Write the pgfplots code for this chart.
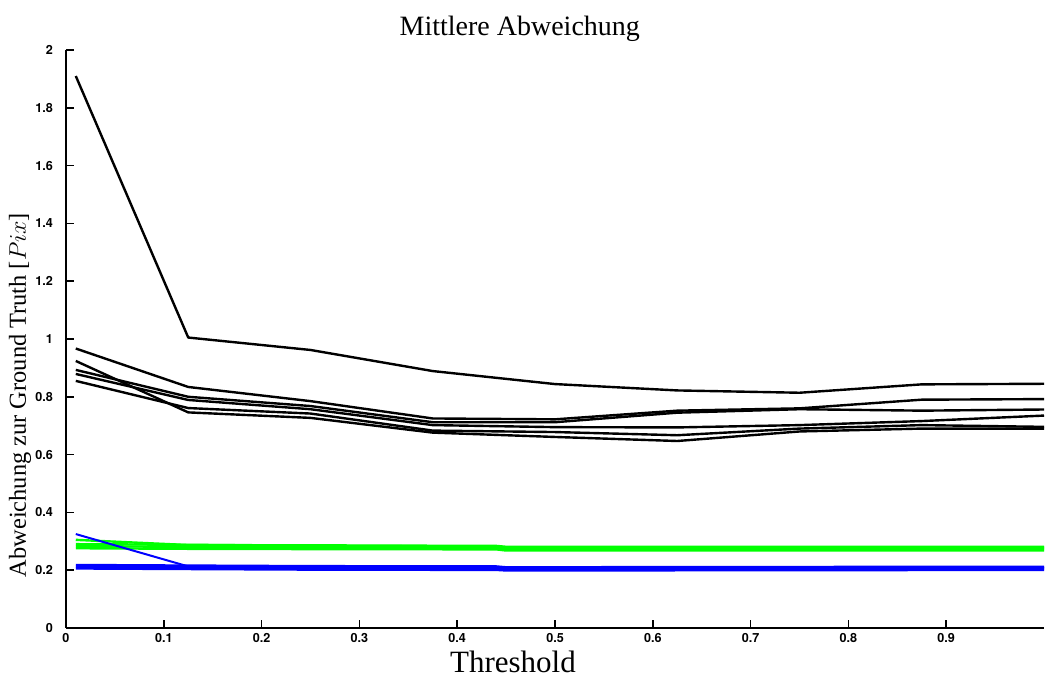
\documentclass[border=0pt]{standalone}
\usepackage{fontspec}
\setmainfont{Liberation Serif}
\newfontfamily\tickfont{TeX Gyre Heros}
\usepackage{pgfplots}
\pgfplotsset{compat=1.18}
\definecolor{mgreen}{RGB}{0,255,0}
\definecolor{mblue}{RGB}{0,0,255}
\begin{document}
\begin{tikzpicture}
\begin{axis}[
  name=ax,
  scale only axis,
  width=489pt, height=289pt,
  xmin=0, xmax=1, ymin=0, ymax=2,
  axis x line=bottom, axis y line=left,
  axis line style={-, line width=1pt},
  tick style={black, line width=0.8pt},
  tick align=inside,
  major tick length=4pt,
  xtick={0,0.1,...,0.9},
  xticklabels={0,0.1,0.2,0.3,0.4,0.5,0.6,0.7,0.8,0.9},
  ytick={0,0.2,...,2},
  yticklabels={0,0.2,0.4,0.6,0.8,1,1.2,1.4,1.6,1.8,2},
  /pgf/number format/assume math mode=true,
  ticklabel style={font=\tickfont\fontsize{6.3}{7}\selectfont\bfseries},
  xticklabel style={yshift=1pt},
  yticklabel style={xshift=-3pt},
  title={Mittlere Abweichung},
  title style={at={(axis description cs:0.464,1.0155)}, anchor=center, font=\fontsize{14}{16}\selectfont},
  xlabel={Threshold},
  xlabel style={at={(axis description cs:0.457,-0.0588)}, anchor=center, font=\fontsize{15.5}{17}\selectfont},
  ylabel={Abweichung zur Ground Truth [$Pix$]},
  ylabel style={at={(axis description cs:-0.047,0.403)}, anchor=center, rotate=0, font=\fontsize{12.2}{14}\selectfont},
  every axis plot/.append style={line width=1.2pt, line join=round},
]
% black lines
\addplot[black] coordinates {(0.01,1.91) (0.125,1.005) (0.25,0.962) (0.375,0.889) (0.5,0.844) (0.625,0.822) (0.75,0.814) (0.875,0.843) (1.0,0.845)};
\addplot[black] coordinates {(0.01,0.967) (0.125,0.834) (0.25,0.785) (0.375,0.725) (0.5,0.722) (0.625,0.752) (0.75,0.760) (0.875,0.790) (1.0,0.792)};
\addplot[black] coordinates {(0.01,0.893) (0.125,0.800) (0.25,0.768) (0.375,0.712) (0.5,0.712) (0.625,0.745) (0.75,0.757) (0.875,0.752) (1.0,0.756)};
\addplot[black] coordinates {(0.01,0.879) (0.125,0.789) (0.25,0.757) (0.375,0.702) (0.5,0.695) (0.625,0.694) (0.75,0.702) (0.875,0.716) (1.0,0.735)};
\addplot[black] coordinates {(0.01,0.855) (0.125,0.761) (0.25,0.742) (0.375,0.683) (0.5,0.678) (0.625,0.667) (0.75,0.690) (0.875,0.702) (1.0,0.696)};
\addplot[black] coordinates {(0.01,0.924) (0.125,0.746) (0.25,0.727) (0.375,0.676) (0.5,0.661) (0.625,0.647) (0.75,0.680) (0.875,0.690) (1.0,0.690)};
% green lines
\addplot[mgreen] coordinates {(0.01,0.305) (0.125,0.287) (0.25,0.286) (0.44,0.284) (0.45,0.281) (1.0,0.281)};
\addplot[mgreen] coordinates {(0.01,0.290) (0.125,0.288) (0.25,0.284) (0.44,0.282) (0.45,0.278) (1.0,0.278)};
\addplot[mgreen] coordinates {(0.01,0.283) (0.125,0.281) (0.25,0.278) (0.44,0.277) (0.45,0.273) (1.0,0.273)};
\addplot[mgreen] coordinates {(0.01,0.276) (0.125,0.274) (0.25,0.273) (0.44,0.272) (0.45,0.268) (1.0,0.268)};
% blue lines
\addplot[mblue, line width=1pt] coordinates {(0.01,0.325) (0.125,0.213) (0.25,0.212) (0.44,0.211) (0.45,0.208) (1.0,0.209)};
\addplot[mblue] coordinates {(0.01,0.218) (0.125,0.216) (0.25,0.214) (0.44,0.213) (0.45,0.210) (1.0,0.212)};
\addplot[mblue] coordinates {(0.01,0.212) (0.125,0.210) (0.25,0.208) (0.44,0.207) (0.45,0.204) (1.0,0.206)};
\addplot[mblue] coordinates {(0.01,0.206) (0.125,0.204) (0.25,0.202) (0.44,0.201) (0.45,0.199) (1.0,0.201)};
\end{axis}
\pgfresetboundingbox
\path[use as bounding box] ([xshift=-33pt,yshift=-27pt]ax.south west) rectangle ([xshift=1.5pt,yshift=25pt]ax.north east);
\end{tikzpicture}
\end{document}
